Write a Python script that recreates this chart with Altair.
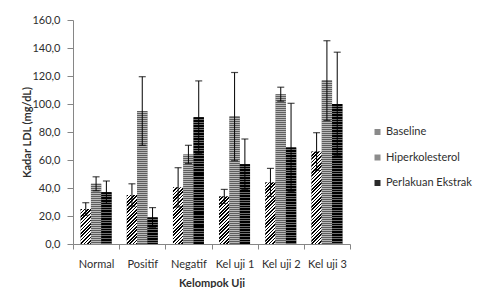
import math
import altair as alt
import pandas as pd

groups = ["Normal", "Positif", "Negatif", "Kel uji 1", "Kel uji 2", "Kel uji 3"]
series = ["Baseline", "Hiperkolesterol", "Perlakuan Ekstrak"]
baseline = [25, 35, 40.5, 34, 44, 66]
baseline_err = [4.5, 8, 14, 5, 10, 13.5]
hiper = [43, 95, 64, 91, 107, 116.7]
hiper_err = [5, 24.5, 6.5, 31.5, 5, 28.5]
perlakuan = [37, 19, 90.5, 57, 69, 100]
perlakuan_err = [8, 7, 26, 18, 31.5, 37]
y_ticks = [0, 20, 40, 60, 80, 100, 120, 140, 160]

rows = []
for s, vals, errs in zip(series, [baseline, hiper, perlakuan],
                         [baseline_err, hiper_err, perlakuan_err]):
    for g, v, e in zip(groups, vals, errs):
        rows.append({"group": g, "series": s, "value": v, "lo": v - e, "hi": v + e})
df = pd.DataFrame(rows)

W, H = 277, 224
PAD_OUT = 0.74
FONT = "Lato"
TXT = "#2e2e2e"
AX = "#868686"

x_enc = alt.X("group:N", sort=groups,
              scale=alt.Scale(domain=groups, paddingInner=0, paddingOuter=0),
              axis=alt.Axis(title="Kelompok Uji", labelAngle=0, tickBand="extent",
                            domainColor=AX, tickColor=AX, tickSize=5,
                            labelPadding=9, titlePadding=8))
xo_enc = alt.XOffset("series:N", sort=series,
                     scale=alt.Scale(domain=series, paddingOuter=PAD_OUT, paddingInner=0))
y_axis = alt.Axis(values=y_ticks, grid=False, title="Kadar LDL (mg/dL)",
                  labelExpr="replace(format(datum.value, '.1f'), '.', ',')",
                  domainColor=AX, tickColor=AX, tickSize=6, labelPadding=7,
                  titleX=-46, titleBaseline="middle")
y_scale = alt.Scale(domain=[0, 160], nice=False)

bars = alt.Chart(df).mark_bar().encode(
    x=x_enc, xOffset=xo_enc,
    y=alt.Y("value:Q", scale=y_scale, axis=y_axis),
    color=alt.Color("series:N", sort=series,
                    scale=alt.Scale(domain=series, range=["#8a8a8a", "#8c8c8c", "#2a2a2a"]),
                    legend=alt.Legend(title=None, orient="none", legendX=299, legendY=106.5,
                                      symbolType="square", symbolSize=36, symbolStrokeWidth=0,
                                      labelFont=FONT, labelFontSize=11, labelColor=TXT,
                                      labelOffset=3, rowPadding=13.5, padding=0)),
)

band = W / len(groups)
bw = band / (3 + 2 * PAD_OUT)


def diag_stripes(w, h, period=3.4):
    L = w + h
    k = L / (w * w + h * h)
    n = L / period
    stops = []
    for j in range(int(math.ceil(n))):
        a = min(j / n, 1.0)
        b = min((j + 0.5) / n, 1.0)
        c = min((j + 1) / n, 1.0)
        stops += [alt.GradientStop(offset=a, color="#000000"),
                  alt.GradientStop(offset=b, color="#000000"),
                  alt.GradientStop(offset=b, color="#ffffff"),
                  alt.GradientStop(offset=c, color="#ffffff")]
    return alt.LinearGradient(gradient="linear", stops=stops, x1=0, y1=0, x2=w * k, y2=h * k)


def row_stripes(h, period, frac, c1, c2):
    n = h / period
    stops = []
    for j in range(int(math.ceil(n))):
        a = min(j / n, 1.0)
        b = min((j + frac) / n, 1.0)
        c = min((j + 1) / n, 1.0)
        stops += [alt.GradientStop(offset=a, color=c1),
                  alt.GradientStop(offset=b, color=c1),
                  alt.GradientStop(offset=b, color=c2),
                  alt.GradientStop(offset=c, color=c2)]
    return alt.LinearGradient(gradient="linear", stops=stops, x1=0, y1=0, x2=0, y2=1)


overlays = []
for s, vals in zip(series, [baseline, hiper, perlakuan]):
    sdf = df[df.series == s]
    for g, v in zip(groups, vals):
        sub = sdf[sdf.group == g]
        h = v * H / 160
        if s == "Baseline":
            fill = diag_stripes(bw, h)
        elif s == "Hiperkolesterol":
            fill = row_stripes(h, 2.0, 0.5, "#5e5e5e", "#b8b8b8")
        else:
            fill = row_stripes(h, 2.6, 0.62, "#000000", "#6e6e6e")
        overlays.append(
            alt.Chart(sub).mark_bar(fill=fill).encode(
                x=x_enc, xOffset=xo_enc, y=alt.Y("value:Q", scale=y_scale, axis=y_axis))
        )

rule = alt.Chart(df).mark_rule(color="black", strokeWidth=1).encode(
    x=x_enc, xOffset=xo_enc, y=alt.Y("lo:Q", scale=y_scale, axis=y_axis), y2="hi:Q")
cap_hi = alt.Chart(df).mark_tick(color="black", thickness=1.2, size=7).encode(
    x=x_enc, xOffset=xo_enc, y=alt.Y("hi:Q", scale=y_scale, axis=y_axis))
cap_lo = alt.Chart(df).mark_tick(color="black", thickness=1.2, size=7).encode(
    x=x_enc, xOffset=xo_enc, y=alt.Y("lo:Q", scale=y_scale, axis=y_axis))

chart = alt.layer(bars, *overlays, rule, cap_hi, cap_lo).properties(
    width=W, height=H,
    autosize=alt.AutoSizeParams(type="none"),
    padding={"left": 65, "top": 12, "right": 126, "bottom": 44},
).configure_view(stroke=None).configure_axis(
    labelFont=FONT, labelFontSize=11, labelColor=TXT,
    titleFont=FONT, titleFontSize=11, titleFontWeight="bold", titleColor=TXT,
)

chart.save("out.html", embed_options={"renderer": "svg", "actions": False})
